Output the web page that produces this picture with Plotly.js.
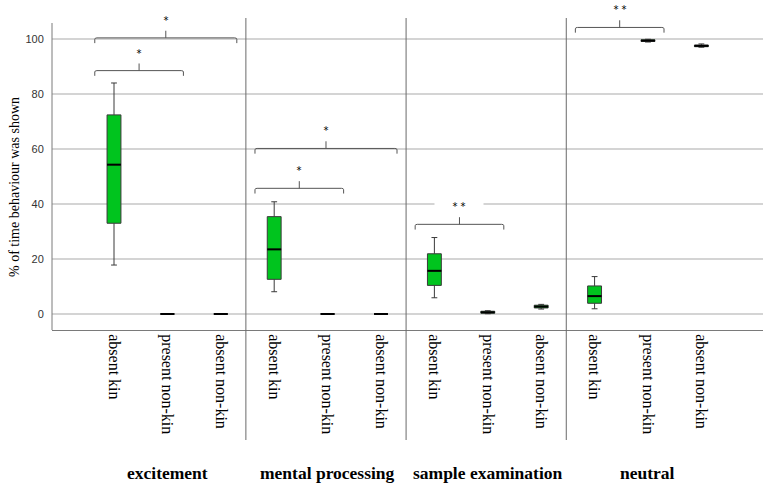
<!DOCTYPE html>
<html>
<head>
<meta charset="utf-8">
<script src="https://cdn.plot.ly/plotly-3.0.1.min.js"></script>
<style>html,body{margin:0;padding:0;background:#fff;}#chart{width:772px;height:487px;}</style>
</head>
<body>
<div id="chart"></div>
<script>
// ---- data ----
var behaviours = ['excitement', 'mental processing', 'sample examination', 'neutral'];
var conditions = ['absent kin', 'present non-kin', 'absent non-kin'];

// per box, ordered behaviour by behaviour, condition by condition
var lowerWhisker = [17.8, 0, 0,   8.1, 0, 0,   5.9, 0.1, 1.8,   1.9, 98.9, 97.0];
var q1Values     = [33.0, 0, 0,  12.6, 0, 0,  10.4, 0.3, 2.2,   3.9, 99.1, 97.2];
var medianValues = [54.3, 0, 0,  23.5, 0, 0,  15.7, 0.6, 2.7,   6.5, 99.4, 97.5];
var q3Values     = [72.4, 0, 0,  35.4, 0, 0,  21.9, 1.0, 3.2,  10.2, 99.7, 97.8];
var upperWhisker = [84.0, 0, 0,  40.8, 0, 0,  27.8, 1.2, 3.5,  13.6, 99.9, 98.2];

// significance brackets: from box index, to box index, bracket height, label
var bracketFrom  = [0, 0, 3, 3, 6, 9];
var bracketTo    = [1, 2, 4, 5, 7, 10];
var bracketLevel = [88.5, 100.4, 45.7, 60.2, 32.6, 104.2];
var bracketLabel = ['*', '*', '*', '*', '* *', '* *'];

var yTicks = [0, 20, 40, 60, 80, 100];

// ---- build ----
var GREEN = '#00c41e';
var BOXW = 0.26;
var xr = [-1.161, 12.154];
var positions = [], tickText = [];
behaviours.forEach(function (b, i) {
  conditions.forEach(function (c, j) {
    positions.push(i * conditions.length + j);
    tickText.push(c);
  });
});

var traces = [];
positions.forEach(function (p, k) {
  traces.push({
    type: 'box', x: [p],
    q1: [q1Values[k]], median: [medianValues[k]], q3: [q3Values[k]],
    lowerfence: [lowerWhisker[k]], upperfence: [upperWhisker[k]],
    width: BOXW, whiskerwidth: 0.42,
    fillcolor: GREEN, line: {color: '#3a3a3a', width: 1},
    showlegend: false, hoverinfo: 'skip', boxpoints: false
  });
});
// thick median lines
var mx = [], my = [];
positions.forEach(function (p, k) {
  mx.push(p - BOXW / 2, p + BOXW / 2, null);
  my.push(medianValues[k], medianValues[k], null);
});
traces.push({type: 'scatter', mode: 'lines', x: mx, y: my, line: {color: '#000', width: 2},
  showlegend: false, hoverinfo: 'skip', cliponaxis: false});

var shapes = [], annotations = [];
var plotBottomPx = 330, plotH = 325, plotLeft = 52, plotW = 711;
function paperY(px) { return (plotBottomPx - px) / plotH; }
function paperX(pos) { return (pos - xr[0]) / (xr[1] - xr[0]); }

// y axis line
shapes.push({type: 'line', xref: 'paper', yref: 'paper', x0: 0, x1: 0, y0: 0, y1: paperY(23),
  line: {color: '#7a7a7a', width: 1}});
// group separators
for (var g = 1; g < behaviours.length; g++) {
  var sx = paperX(g * conditions.length - 0.53);
  shapes.push({type: 'line', xref: 'paper', yref: 'paper', x0: sx, x1: sx, y0: paperY(440), y1: paperY(18),
    line: {color: '#6a6a6a', width: 1}});
}
// brackets
bracketFrom.forEach(function (f, i) {
  var x0 = positions[f] - 0.36, x1 = positions[bracketTo[i]] + 0.3;
  var xm = (x0 + x1) / 2, y = bracketLevel[i];
  var d = 'M' + x0 + ',' + (y - 1.9) + ' L' + x0 + ',' + (y - 0.5) + ' Q' + x0 + ',' + y + ' ' + (x0 + 0.04) + ',' + y +
          ' L' + (x1 - 0.04) + ',' + y + ' Q' + x1 + ',' + y + ' ' + x1 + ',' + (y - 0.5) + ' L' + x1 + ',' + (y - 1.9) +
          ' M' + xm + ',' + y + ' L' + xm + ',' + (y + 2.6);
  shapes.push({type: 'path', xref: 'x', yref: 'y', path: d, line: {color: '#555', width: 1}});
  annotations.push({xref: 'x', yref: 'y', x: xm, y: y + 6.4, text: bracketLabel[i], showarrow: false,
    font: {family: 'DejaVu Sans', size: 10, color: '#000'}, bgcolor: '#fff', width: 46,
    xanchor: 'center', yanchor: 'middle'});
});
// group labels
behaviours.forEach(function (b, i) {
  annotations.push({xref: 'x', yref: 'paper', x: positions[i * conditions.length + 1], y: paperY(473),
    text: '<b>' + b + '</b>', showarrow: false, xanchor: 'center', yanchor: 'middle',
    font: {family: 'Liberation Serif', size: 17.5, color: '#000'}});
});
// y title
annotations.push({xref: 'paper', yref: 'paper', x: (14 - plotLeft) / plotW, y: paperY(187),
  text: '% of time behaviour was shown', textangle: -90, showarrow: false,
  xanchor: 'center', yanchor: 'middle', font: {family: 'Liberation Serif', size: 14, color: '#000'}});

var layout = {
  width: 772, height: 487,
  margin: {l: 52, r: 9, t: 5, b: 157, pad: 0},
  paper_bgcolor: '#fff', plot_bgcolor: '#fff',
  showlegend: false,
  xaxis: {range: xr, tickvals: positions, ticktext: tickText, tickangle: 90,
    showgrid: false, zeroline: false, showline: true, linecolor: '#7a7a7a', linewidth: 1,
    ticks: '', tickfont: {family: 'Liberation Serif', size: 16, color: '#000'}},
  yaxis: {range: [-5.82, 112.36], tickvals: yTicks, showgrid: true, gridcolor: '#d4d4d4', gridwidth: 1.5,
    zeroline: false, showline: false, ticks: 'outside', ticklen: 5, tickcolor: 'rgba(0,0,0,0)',
    tickfont: {family: 'Liberation Sans', size: 11, color: '#333'}},
  shapes: shapes, annotations: annotations
};
Plotly.newPlot('chart', traces, layout, {displayModeBar: false, staticPlot: true});
</script>
</body>
</html>
